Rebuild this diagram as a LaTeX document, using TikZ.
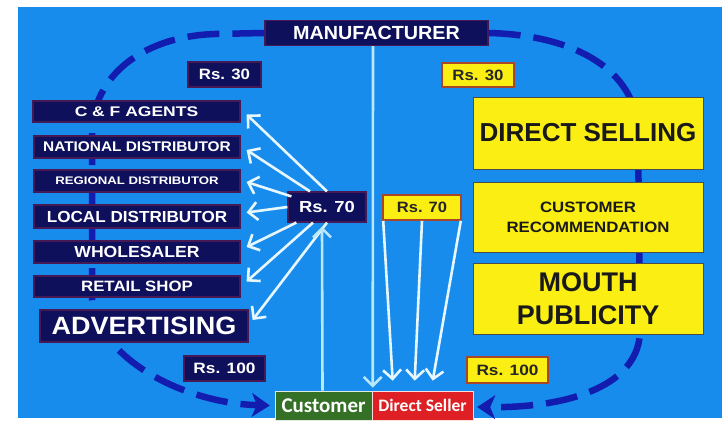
\documentclass[tikz,border=0pt]{standalone}
\usepackage{fontspec}
\usepackage{graphicx}
\setmainfont{Liberation Sans}
\newfontfamily\carlitofont{Carlito}
\usetikzlibrary{arrows.meta}

\definecolor{bgblue}{RGB}{24,140,236}
\definecolor{navy}{RGB}{14,16,92}
\definecolor{navyedge}{RGB}{70,24,84}
\definecolor{ylw}{RGB}{250,238,18}
\definecolor{ylwedge}{RGB}{170,70,40}
\definecolor{dashblue}{RGB}{18,28,175}
\definecolor{wline}{RGB}{230,247,255}
\definecolor{cline}{RGB}{185,232,250}
\definecolor{custgreen}{RGB}{52,112,38}
\definecolor{selred}{RGB}{222,32,36}

\newcommand\hs[2]{\scalebox{#1}[1]{#2}}
\newcommand\fs[1]{\fontsize{#1}{#1}\selectfont\bfseries}

\tikzset{
  navybox/.style={fill=navy, draw=navyedge, line width=1.2pt, text=white, inner sep=0pt, font=\bfseries},
  ylwbox/.style={fill=ylw, draw=black!70, line width=0.6pt, text=black!90, inner sep=0pt, align=center},
  rsyl/.style={fill=ylw, draw=ylwedge, line width=1.6pt, text=black!85, inner sep=0pt, font=\bfseries},
  warrow/.style={draw=wline, line width=2.6pt, -{Straight Barb[length=9pt,width=18pt]}},
  varrow/.style={draw=cline, line width=2.6pt, -{Straight Barb[length=9pt,width=18pt]}},
  dpath/.style={draw=dashblue, line width=6.5pt, dash pattern=on 32pt off 13pt, -{Stealth[length=18pt,width=24pt,inset=5pt,line width=1pt]}}
}

\begin{document}
\begin{tikzpicture}[x=1pt,y=-1pt]
\useasboundingbox (0,0) rectangle (727,422);
\fill[white] (0,0) rectangle (727,422);
\fill[bgblue] (18,7) rectangle (722,418);

% nodes (coordinates only first for paths)
\node[navybox, minimum width=223pt, minimum height=25pt] (manu) at (376.5,33) {\hs{1.04}{\fs{19}MANUFACTURER}};
\node[inner sep=0pt, minimum width=97pt, minimum height=29pt] (cust0) at (323.5,405.5) {};
\node[inner sep=0pt, minimum width=101pt, minimum height=29pt] (dsel0) at (422.5,405.5) {};

% dashed loop
\draw[dpath] (manu.west) -- (215,34) .. controls (150,36) and (95,70) .. (92,130) -- (92,300) .. controls (100,360) and (185,403) .. ([shift={(-5,0)}]cust0.west);
\draw[dpath] (manu.east) .. controls (575,35) and (635,70) .. (638,130) -- (640,330) .. controls (640,385) and (570,408) .. ([shift={(4,1.5)}]dsel0.east);

% left boxes
\node[navybox, minimum width=207pt, minimum height=21pt] (cf) at (136.5,111.5) {\hs{1.25}{\fs{14}C \& F AGENTS}};
\node[navybox, minimum width=206pt, minimum height=22pt] (natl) at (137,147) {\hs{1.1}{\fs{14}NATIONAL DISTRIBUTOR}};
\node[navybox, minimum width=206pt, minimum height=22pt] (reg) at (137,181) {\hs{1.2}{\fs{11}REGIONAL DISTRIBUTOR}};
\node[navybox, minimum width=206pt, minimum height=23pt] (loc) at (137,216.5) {\hs{1.07}{\fs{16}LOCAL DISTRIBUTOR}};
\node[navybox, minimum width=206pt, minimum height=22pt] (whole) at (137,252) {\hs{1.1}{\fs{16}WHOLESALER}};
\node[navybox, minimum width=206pt, minimum height=21pt] (retail) at (137,286.5) {\hs{1.12}{\fs{15}RETAIL SHOP}};
\node[navybox, minimum width=208pt, minimum height=32pt] (adv) at (144,326) {\hs{1.08}{\fs{25}ADVERTISING}};

% price boxes
\node[navybox, minimum width=73pt, minimum height=25pt] (rs30l) at (224.5,74.5) {\hs{1.12}{\fs{15}Rs. 30}};
\node[rsyl, minimum width=72pt, minimum height=24pt] (rs30r) at (478,75) {\hs{1.12}{\fs{15}Rs. 30}};
\node[navybox, minimum width=78pt, minimum height=30pt] (rs70l) at (327,207) {\hs{1.15}{\fs{16}Rs. 70}};
\node[rsyl, minimum width=78pt, minimum height=25pt] (rs70r) at (422,207.5) {\hs{1.1}{\fs{15}Rs. 70}};
\node[navybox, minimum width=81pt, minimum height=25pt] (rs100l) at (224.5,368.5) {\hs{1.15}{\fs{15}Rs. 100}};
\node[rsyl, minimum width=81pt, minimum height=26pt] (rs100r) at (507.5,370) {\hs{1.15}{\fs{15}Rs. 100}};

% right yellow boxes
\node[ylwbox, minimum width=230pt, minimum height=72pt, font=\fontsize{26}{30}\selectfont\bfseries] (ds) at (588,133) {DIRECT SELLING};
\node[ylwbox, minimum width=230pt, minimum height=70pt, font=\fontsize{15}{20}\selectfont\bfseries] (cr) at (588,217) {\hs{1.12}{CUSTOMER}\\\hs{1.12}{RECOMMENDATION}};
\node[ylwbox, minimum width=230pt, minimum height=71pt, font=\fontsize{27}{33}\selectfont\bfseries] (mp) at (588,298.5) {MOUTH\\PUBLICITY};

% bottom boxes
\node[fill=custgreen, draw=white!85!custgreen, line width=0.6pt, text=white, inner sep=0pt, minimum width=97pt, minimum height=29pt] (cust) at (323.5,405.5) {\carlitofont\bfseries\fontsize{21}{21}\selectfont Customer};
\node[fill=selred, draw=white!85!selred, line width=0.6pt, text=white, inner sep=0pt, minimum width=101pt, minimum height=29pt] (dsel) at (422.5,405.5) {\carlitofont\bfseries\fontsize{17.5}{17.5}\selectfont Direct Seller};

% white arrows from Rs. 70 to the chain
\draw[warrow] (rs70l.north) -- ([shift={(6,3)}]cf.east);
\draw[warrow] ([shift={(-17,0)}]rs70l.north) -- ([shift={(6,3)}]natl.east);
\draw[warrow] ([shift={(4,5)}]rs70l.north west) -- ([shift={(6,1)}]reg.east);
\draw[warrow] (rs70l.west) -- ([shift={(6,-4)}]loc.east);
\draw[warrow] ([shift={(9,0)}]rs70l.south west) -- ([shift={(6,-5)}]whole.east);
\draw[warrow] ([shift={(-14,0)}]rs70l.south) -- ([shift={(6,-5)}]retail.east);
\draw[warrow] (rs70l.south) -- ([shift={(4,-6)}]adv.east);

% vertical lines
\draw[varrow] ([shift={(-3.5,0)}]manu.south) -- ([shift={(1,-3)}]dsel.north west);
\draw[varrow] ([shift={(-1,0)}]cust.north) -- ([shift={(-5,4)}]rs70l.south);

% Rs. 70 (yellow) to Direct Seller
\draw[warrow] ([shift={(1,0)}]rs70r.south west) -- ([shift={(21,-10)}]dsel.north west);
\draw[warrow] (rs70r.south) -- ([shift={(43,-10)}]dsel.north west);
\draw[warrow] ([shift={(-1,0)}]rs70r.south east) -- ([shift={(61,-10)}]dsel.north west);
\end{tikzpicture}
\end{document}
